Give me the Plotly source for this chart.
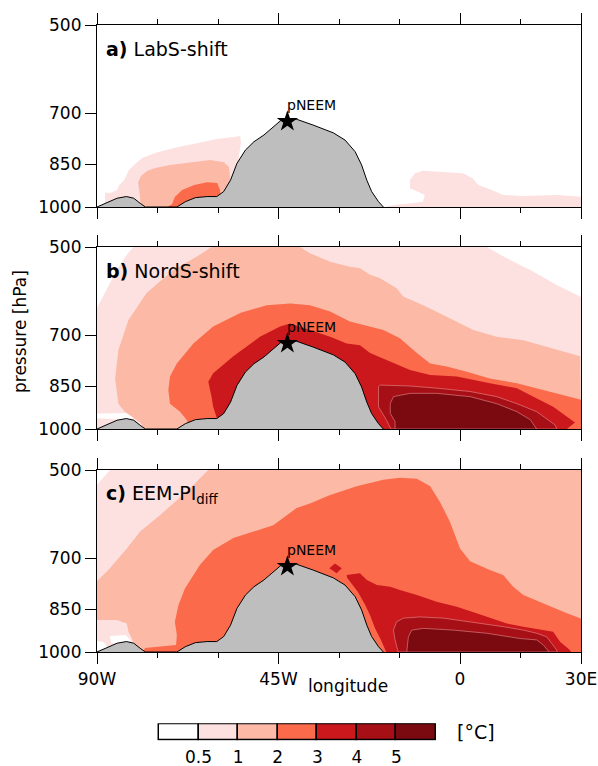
import math
import plotly.graph_objects as go

W, H = 598, 766
FONT = "DejaVu Sans"

# ---------------- data ----------------
LEVEL_LABELS = ['0.5', '1', '2', '3', '4', '5']
COLORS = ['#ffffff', '#fde0e0', '#fbb9a6', '#fb6a4a', '#cb181d', '#a50f15', '#7a0a10']
LON_TICKS = [-90, -45, 0, 30]
LON_LABELS = ['90W', '45W', '0', '30E']
P_TICKS = [500, 700, 850, 1000]

TOPO_LON = [-90, -87.5, -85.0, -82.7, -80.9, -79.3, -78.0, -70.2, -68.1, -65.6, -62.7, -60.3,
            -58.6, -56.9, -55.3, -53.2, -51.1, -48.6, -46.1, -44.5, -42.5, -40.5, -36.4, -31.4,
            -28.5, -26.0, -24.4, -23.1, -21.9, -20.2, -19.0]
TOPO_P = [1000, 984, 967, 961, 967, 986, 1000, 1000, 980, 965, 961, 961,
          943, 903, 847, 805, 780, 760, 737, 720, 714, 716, 732, 754,
          775, 810, 852, 903, 943, 980, 1000]
PNEEM_LON, PNEEM_P = -42.8, 722
PNEEM_LABEL_LON, PNEEM_LABEL_P = -43.4, 678

# panel a: regions above each level, (lon, hPa)
A_05_WEST = [(-88, 1000), (-88, 946), (-86.8, 948), (-85, 937), (-84.5, 920), (-83.3, 903),
             (-82.1, 869), (-80.8, 852), (-78.8, 830), (-75.6, 814), (-70.9, 799), (-65.2, 784),
             (-60.2, 772), (-56, 766), (-54.5, 763), (-54.3, 784), (-54.8, 820), (-55, 852), (-55, 1000)]
A_05_EAST = [(-18.2, 1000), (-18.2, 997), (-14.9, 990), (-12.4, 987), (-9.2, 980), (-8.7, 955),
             (-10.4, 944), (-12.4, 931), (-12.4, 903), (-11.2, 879), (-9.2, 871), (-5.0, 875),
             (0.75, 879), (3.2, 897), (4.5, 920), (7.4, 935), (10.7, 955), (15.6, 959), (24.1, 955),
             (30, 962), (30, 1000)]
A_1 = [(-79.3, 1000), (-79.3, 963), (-79.8, 910), (-79.1, 889), (-77.6, 872), (-75.6, 862),
       (-71.9, 852), (-66.9, 843), (-62.0, 836), (-58.5, 843), (-57.3, 859), (-57.0, 892), (-57.0, 1000)]
A_2 = [(-72.6, 1000), (-71.4, 990), (-70.7, 963), (-68.9, 937), (-65.9, 920), (-62.7, 910),
       (-60.2, 913), (-59.5, 937), (-59.3, 1000)]

# panel b
B_05 = [(-90, 631), (-87.6, 589), (-85.1, 546), (-82.6, 515), (-81.0, 500), (6.6, 500),
        (11.6, 522), (17.4, 546), (24.0, 578), (29.8, 604), (30, 606), (30, 1000), (-90, 1000)]
B_0 = [(-90, 943), (-81.4, 941), (-79.4, 955), (-83, 965), (-90, 960)]
B_1 = [(-61.6, 500), (-65.3, 519), (-71.1, 546), (-77.7, 596), (-82.2, 660), (-84.7, 740),
       (-85.5, 825), (-84.7, 908), (-83.1, 936), (-81.4, 953), (-79.3, 976), (-78.3, 1000),
       (30, 1000), (29.8, 758), (24.0, 740), (15.7, 713), (9.1, 704), (3.3, 686), (-3.3, 652),
       (-9.1, 624), (-14.1, 604), (-15.7, 585), (-19.8, 563), (-22.3, 556), (-24.8, 542),
       (-27.3, 539), (-32.2, 529), (-37.2, 512), (-39.7, 500)]
B_2 = [(-66.5, 1000), (-67.8, 965), (-69.4, 936), (-71.9, 908), (-72.3, 862), (-71.9, 819),
       (-70.2, 779), (-66.1, 722), (-61.2, 677), (-54.5, 643), (-47.9, 624), (-42.1, 620),
       (-37.2, 624), (-32.2, 639), (-27.3, 664), (-24.0, 673), (-19.0, 686), (-14.9, 708),
       (-10.7, 749), (-7.4, 779), (-3.3, 788), (1.7, 804), (7.4, 825), (14.1, 840), (20.7, 862),
       (26.5, 884), (30, 895), (30, 1000)]
B_3 = [(-60.0, 1000), (-60.3, 959), (-61.2, 919), (-61.6, 884), (-62.4, 835), (-61.2, 809),
       (-56.2, 758), (-49.6, 704), (-44.6, 677), (-42.1, 669), (-37.2, 686), (-32.2, 704),
       (-28.1, 722), (-24.8, 727), (-22.3, 749), (-17.4, 774), (-12.4, 799), (-7.4, 814),
       (-0.8, 819), (7.4, 840), (14.1, 856), (18.2, 884), (23.1, 919), (28.5, 976), (26.5, 1000)]
B_4 = [(-17.1, 1000), (-18.3, 965), (-20.2, 919), (-20.2, 851), (-19.8, 846), (-12.4, 849),
       (-5.8, 856), (2.5, 867), (9.1, 884), (14.1, 908), (19.0, 936), (21.5, 961), (23.6, 985),
       (24.0, 1000)]
B_5 = [(-16.1, 1000), (-16.1, 972), (-17.3, 942), (-17.3, 908), (-16.5, 884), (-12.4, 873),
       (-5.8, 873), (2.5, 884), (9.1, 908), (14.1, 936), (17.4, 965), (19.0, 1000)]

# panel c
C_05 = [(-90, 529), (-86.8, 500), (30, 500), (30, 1000), (-90, 1000)]
C_0_A = [(-86.8, 941), (-82.8, 937), (-81.6, 959), (-83.8, 970), (-86.5, 966)]
C_0_B = [(-90, 959), (-88.3, 963), (-87.3, 985), (-90, 993)]
C_1 = [(-62.4, 500), (-67.8, 543), (-74.4, 594), (-79.3, 632), (-82.6, 674), (-86.8, 727),
       (-89.7, 760), (-90, 763), (-90, 885), (-85.1, 885), (-82.6, 897), (-82.2, 926),
       (-81.0, 962), (-80.2, 1000), (30, 1000), (30, 500)]
C_2 = [(-78.6, 1000), (-78.1, 985), (-70.4, 974), (-70.2, 937), (-70.7, 891), (-69.8, 836),
       (-68.2, 785), (-64.5, 718), (-61.2, 678), (-56.2, 648), (-46.3, 617), (-40.5, 578),
       (-37.2, 568), (-32.2, 550), (-25.6, 532), (-19.0, 519), (-14.9, 515), (-10.7, 517),
       (-7.4, 532), (-5.0, 564), (-2.5, 609), (0, 674), (2.5, 708), (7.4, 732), (10.7, 746),
       (13.2, 780), (15.7, 805), (21.5, 836), (26.5, 863), (29.8, 879), (30, 882), (30, 1000)]
C_3_BLOB = [(-32.4, 727), (-31.0, 714), (-29.3, 727), (-30.6, 741)]
C_3 = [(-18.3, 1000), (-19.6, 955), (-21.1, 913), (-22.3, 869), (-23.5, 836), (-25.3, 796),
       (-28.0, 754), (-28.1, 746), (-24.8, 741), (-23.1, 760), (-20.6, 775), (-17.3, 780),
       (-14.9, 790), (-10.7, 805), (-5.8, 826), (-0.8, 842), (4.1, 863), (11.6, 897),
       (15.7, 908), (20.7, 920), (23.1, 926), (24.8, 962), (27.3, 993), (27.5, 1000)]
C_4 = [(-15.3, 1000), (-16.1, 955), (-16.5, 920), (-15.7, 891), (-14.0, 879), (-9.9, 875),
       (-4.1, 879), (2.5, 891), (10.7, 908), (15.7, 920), (19.0, 931), (21.5, 944), (22.7, 966),
       (24.0, 993), (24.1, 1000)]
C_5 = [(-13.2, 1000), (-12.8, 944), (-12.0, 920), (-9.1, 914), (-1.6, 920), (6.6, 931),
       (14.9, 950), (19.0, 955), (20.7, 974), (21.9, 993), (22.1, 1000)]

PANELS = [
    ("a", "LabS-shift", [(1, [A_05_WEST, A_05_EAST]), (2, [A_1]), (3, [A_2])]),
    ("b", "NordS-shift", [(1, [B_05]), (0, [B_0]), (2, [B_1]), (3, [B_2]), (4, [B_3]),
                          (5, [B_4]), (6, [B_5])]),
    ("c", "EEM-PI<sub>diff</sub>", [(1, [C_05]), (0, [C_0_A, C_0_B]), (2, [C_1]), (3, [C_2]),
                                     (4, [C_3, C_3_BLOB]), (5, [C_4]), (6, [C_5])]),
]

# ---------------- layout geometry (pixels) ----------------
PX0, PX1 = 97, 581
TOPS = [25, 247, 470]
PH = 182


def px_x(x):
    return x / W


def px_y(y):
    return 1 - y / H


def rings(polys):
    xs, ys = [], []
    for poly in polys:
        if xs:
            xs.append(None)
            ys.append(None)
        xs += [q[0] for q in poly] + [poly[0][0]]
        ys += [q[1] for q in poly] + [poly[0][1]]
    return xs, ys


fig = go.Figure()
annotations = []
layout = {}

for i, (tag, name, regions) in enumerate(PANELS):
    n = i + 1
    xa = 'x' if n == 1 else f'x{n}'
    ya = 'y' if n == 1 else f'y{n}'
    for ci, polys in regions:
        xs, ys = rings(polys)
        line = dict(width=0, color=COLORS[ci])
        if ci >= 5:
            line = dict(width=0.7, color='rgba(235,150,150,0.8)')
        fig.add_trace(go.Scatter(x=xs, y=ys, mode='lines', fill='toself', fillcolor=COLORS[ci],
                                 line=line, xaxis=xa, yaxis=ya, showlegend=False,
                                 hoverinfo='skip'))
    fig.add_trace(go.Scatter(x=TOPO_LON, y=TOPO_P, mode='lines', fill='toself',
                             fillcolor='#bebebe', line=dict(color='black', width=1),
                             xaxis=xa, yaxis=ya, showlegend=False, hoverinfo='skip'))
    fig.add_trace(go.Scatter(x=[PNEEM_LON], y=[PNEEM_P], mode='markers',
                             marker=dict(symbol='star', size=16, color='black'),
                             xaxis=xa, yaxis=ya, showlegend=False, hoverinfo='skip'))
    annotations.append(dict(x=PNEEM_LABEL_LON, y=math.log10(PNEEM_LABEL_P), xref=xa, yref=ya,
                            text='pNEEM', showarrow=False, xanchor='left', yanchor='middle',
                            font=dict(family=FONT, size=14, color='black')))
    top = TOPS[i]
    annotations.append(dict(x=px_x(104), y=px_y(top + 24), xref='paper', yref='paper',
                            text=f'<b>{tag})</b> {name}', showarrow=False, xanchor='left',
                            yanchor='middle', font=dict(family=FONT, size=19, color='black')))
    last = (n == 3)
    layout['xaxis' if n == 1 else f'xaxis{n}'] = dict(
        domain=[px_x(PX0), px_x(PX1)], anchor=ya, range=[-90, 30], automargin=False,
        tickmode='array', tickvals=LON_TICKS, ticktext=LON_LABELS, showticklabels=last,
        ticks='outside', ticklen=11, tickwidth=1, tickcolor='black',
        minor=dict(tickmode='linear', tick0=0, dtick=15, ticks='outside', ticklen=5,
                   tickwidth=1, tickcolor='black', showgrid=False),
        showline=True, linecolor='black', linewidth=1.2, mirror='ticks',
        showgrid=False, zeroline=False,
        tickfont=dict(family=FONT, size=17, color='black'))
    layout['yaxis' if n == 1 else f'yaxis{n}'] = dict(
        domain=[px_y(top + PH), px_y(top)], anchor=xa, type='log', automargin=False,
        range=[math.log10(1000), math.log10(500)],
        tickmode='array', tickvals=P_TICKS, ticktext=[str(v) for v in P_TICKS],
        ticks='outside', ticklen=11, tickwidth=1, tickcolor='black',
        showline=True, linecolor='black', linewidth=1.2, mirror=True,
        showgrid=False, zeroline=False,
        tickfont=dict(family=FONT, size=17, color='black'))

# colour bar as a row of boxes
NB = len(COLORS)
fig.add_trace(go.Bar(x=[1] * NB, base=list(range(NB)), y=[0] * NB,
                     orientation='h', width=1, cliponaxis=False,
                     marker=dict(color=COLORS, line=dict(color='black', width=1.5)),
                     xaxis='x4', yaxis='y4', showlegend=False, hoverinfo='skip'))
CB_X0, CB_X1, CB_Y0, CB_Y1 = 159, 436, 724, 740
pad_x = (CB_X1 - CB_X0) / NB * 0.05
pad_y = (CB_Y1 - CB_Y0) * 0.05
layout['xaxis4'] = dict(domain=[px_x(CB_X0 - pad_x), px_x(CB_X1 + pad_x)], anchor='y4',
                        range=[-0.05, NB + 0.05], automargin=False,
                        tickmode='array', tickvals=list(range(1, NB)),
                        ticktext=LEVEL_LABELS, ticks='', showline=False, showgrid=False,
                        zeroline=False, ticklabelstandoff=4,
                        tickfont=dict(family=FONT, size=17, color='black'))
layout['yaxis4'] = dict(domain=[px_y(CB_Y1 + pad_y), px_y(CB_Y0 - pad_y)], anchor='x4',
                        range=[-0.55, 0.55], visible=False, automargin=False)

annotations.append(dict(x=px_x(476), y=px_y(732), xref='paper', yref='paper', text='[°C]',
                        showarrow=False, xanchor='center', yanchor='middle',
                        font=dict(family=FONT, size=19, color='black')))
annotations.append(dict(x=px_x(20), y=px_y(332), xref='paper', yref='paper',
                        text='pressure [hPa]', textangle=-90, showarrow=False,
                        xanchor='center', yanchor='middle',
                        font=dict(family=FONT, size=17, color='black')))
annotations.append(dict(x=px_x(348), y=px_y(686), xref='paper', yref='paper',
                        text='longitude', showarrow=False, xanchor='center', yanchor='middle',
                        font=dict(family=FONT, size=17, color='black')))

fig.update_layout(width=W, height=H, margin=dict(l=0, r=0, t=0, b=0, autoexpand=False),
                  plot_bgcolor='white', paper_bgcolor='white', annotations=annotations,
                  bargap=0, **layout)

fig.write_html("out.html", config={'displayModeBar': False},
               post_script="document.body.style.margin='0px';")
